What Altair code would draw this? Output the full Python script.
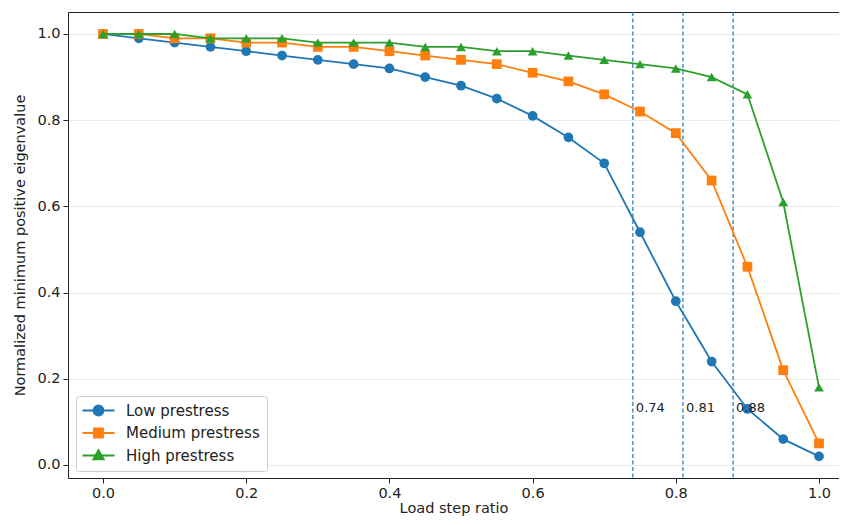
import altair as alt
import pandas as pd

load_step = [0.0, 0.05, 0.1, 0.15, 0.2, 0.25, 0.3, 0.35, 0.4, 0.45, 0.5,
             0.55, 0.6, 0.65, 0.7, 0.75, 0.8, 0.85, 0.9, 0.95, 1.0]
low = [1.0, 0.99, 0.98, 0.97, 0.96, 0.95, 0.94, 0.93, 0.92, 0.90, 0.88,
       0.85, 0.81, 0.76, 0.70, 0.54, 0.38, 0.24, 0.13, 0.06, 0.02]
medium = [1.0, 1.0, 0.99, 0.99, 0.98, 0.98, 0.97, 0.97, 0.96, 0.95, 0.94,
          0.93, 0.91, 0.89, 0.86, 0.82, 0.77, 0.66, 0.46, 0.22, 0.05]
high = [1.0, 1.0, 1.0, 0.99, 0.99, 0.99, 0.98, 0.98, 0.98, 0.97, 0.97,
        0.96, 0.96, 0.95, 0.94, 0.93, 0.92, 0.90, 0.86, 0.61, 0.18]
series_names = ["Low prestress", "Medium prestress", "High prestress"]
colors = ["#1f77b4", "#ff7f0e", "#2ca02c"]
marker_shapes = ["circle", "square", "triangle-up"]

crit_x = [0.74, 0.81, 0.88]
crit_labels = ["0.74", "0.81", "0.88"]
crit_label_y = [0.132, 0.132, 0.132]

rows = []
for name, vals in zip(series_names, [low, medium, high]):
    for xv, yv in zip(load_step, vals):
        rows.append({"x": xv, "y": yv, "series": name})
df = pd.DataFrame(rows)
crit_df = pd.DataFrame({"x": crit_x, "label": crit_labels, "y": crit_label_y})

FONT = "DejaVu Sans"
FS = 14.5
xscale = alt.Scale(domain=[-0.0489, 1.0279], nice=False, zero=False)
yscale = alt.Scale(domain=[-0.0302, 1.051], nice=False, zero=False)

x_main = alt.X("x:Q", scale=xscale, title="Load step ratio",
               axis=alt.Axis(values=[0.0, 0.2, 0.4, 0.6, 0.8, 1.0], format=".1f",
                             labelFontSize=FS, titleFontSize=FS, labelFont=FONT, titleFont=FONT,
                             labelColor="#222", titleColor="#222", titleFontWeight="normal",
                             tickSize=5, labelPadding=3, titlePadding=2,
                             domainColor="#222", tickColor="#222",
                             gridColor="#e6e6e6", gridWidth=0.8))
x_none = alt.X("x:Q", scale=xscale, axis=None)
x_top = alt.X("x:Q", scale=xscale,
              axis=alt.Axis(orient="top", labels=False, ticks=False, grid=False, title=None,
                            domainColor="#222"))
y_main = alt.Y("y:Q", scale=yscale, title="Normalized minimum positive eigenvalue",
               axis=alt.Axis(values=[0.0, 0.2, 0.4, 0.6, 0.8, 1.0], format=".1f",
                             labelFontSize=FS, titleFontSize=FS, labelFont=FONT, titleFont=FONT,
                             labelColor="#222", titleColor="#222", titleFontWeight="normal",
                             tickSize=5, labelPadding=3, titlePadding=9,
                             domainColor="#222", tickColor="#222",
                             gridColor="#e6e6e6", gridWidth=0.8))

base = alt.Chart(df)

series_layers = []
for i, (name, col, shp) in enumerate(zip(series_names, colors, marker_shapes)):
    sub = base.transform_filter(alt.datum.series == name)
    series_layers.append(
        sub.mark_line(strokeWidth=1.8, color=col).encode(
            x=x_main if i == 0 else x_none, y=y_main, order=alt.Order("x:Q"))
    )
    series_layers.append(
        sub.mark_point(filled=True, size=95, opacity=1, shape=shp, color=col).encode(
            x=x_none, y=y_main)
    )

legend_paths = [
    "M-3.2 0L3.2 0M1 0A1 1 0 1 1 -1 0A1 1 0 1 1 1 0Z",
    "M-3.2 0L3.2 0M-0.9 -0.9L0.9 -0.9L0.9 0.9L-0.9 0.9Z",
    "M-3.2 0L3.2 0M0 -1.1L1.05 0.75L-1.05 0.75Z",
]
leg = alt.Legend(title=None, orient="none", legendX=8, legendY=384,
                 fillColor="white", strokeColor="#cccccc", cornerRadius=3, padding=7,
                 labelFontSize=15, labelFont=FONT, labelColor="#222",
                 symbolSize=100, symbolStrokeWidth=1.8, symbolOffset=8, labelOffset=20,
                 rowPadding=4.5)
legend_layer = base.mark_point(filled=True, size=100, strokeWidth=1.8, opacity=1).encode(
    x=x_none, y=y_main,
    fill=alt.Fill("series:N", scale=alt.Scale(domain=series_names, range=colors), legend=leg),
    stroke=alt.Stroke("series:N", scale=alt.Scale(domain=series_names, range=colors), legend=leg),
    shape=alt.Shape("series:N", scale=alt.Scale(domain=series_names, range=legend_paths), legend=leg),
).transform_filter("datum.x < -5")

rules = alt.Chart(crit_df).mark_rule(color="#1f77b4", strokeWidth=1.2, strokeDash=[4, 2.5]).encode(
    x=x_none,
)
texts = alt.Chart(crit_df).mark_text(align="left", baseline="middle", dx=3, fontSize=13,
                                     font=FONT, color="#222").encode(
    x=x_none, y=y_main, text="label:N",
)
top = alt.Chart(crit_df).mark_point(opacity=0).encode(x=x_top, y=y_main)

chart = alt.layer(rules, *series_layers, texts, legend_layer, top).resolve_axis(
    x="independent"
).properties(
    width=771, height=466,
    autosize=alt.AutoSizeParams(type="none"),
    padding={"left": 60, "top": 4, "right": 0, "bottom": 39},
).configure_view(stroke=None).configure(background="white")

chart.save("out.html", embed_options={"renderer": "svg", "actions": False})
